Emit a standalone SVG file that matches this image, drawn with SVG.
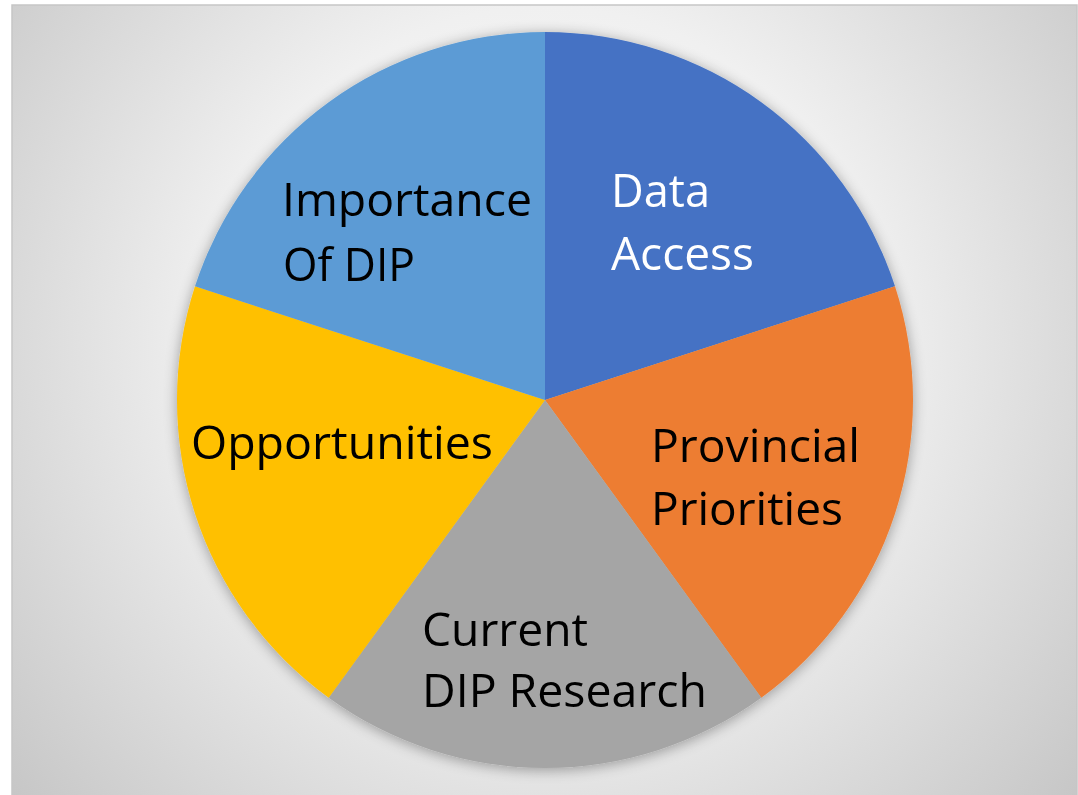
<svg xmlns="http://www.w3.org/2000/svg" width="1078" height="795" viewBox="0 0 1078 795">
  <style>
    .lbl { font-family: "Open Sans", "Liberation Sans", sans-serif; font-size: 46px; }
    .dark { fill: #000000; }
    .light { fill: #ffffff; }
    .slice { stroke: none; }
  </style>
  <defs>
    <radialGradient id="bg" gradientUnits="userSpaceOnUse" cx="545" cy="340" r="740">
      <stop offset="0" stop-color="#ffffff"/>
      <stop offset="0.45" stop-color="#f0f0f0"/>
      <stop offset="1" stop-color="#c2c2c2"/>
    </radialGradient>
    <filter id="shadow" x="-10%" y="-10%" width="120%" height="120%">
      <feGaussianBlur in="SourceAlpha" stdDeviation="7"/>
      <feOffset dx="0" dy="2" result="b"/>
      <feComponentTransfer><feFuncA type="linear" slope="0.35"/></feComponentTransfer>
      <feMerge><feMergeNode/><feMergeNode in="SourceGraphic"/></feMerge>
    </filter>
  </defs>
  <rect x="0" y="0" width="1078" height="795" fill="#ffffff"/>
  <rect x="12" y="5" width="1065" height="792" fill="url(#bg)" stroke="#c6c6c6" stroke-width="1.5"/>

  <g id="connectors"></g>

  <g filter="url(#shadow)">
    <g id="data-access">
      <path class="slice" d="M545,400 L545,32 A368,368 0 0 1 895,286.3 Z" fill="#4472C4"/>
      <text class="lbl light" x="611" y="207" textLength="99" lengthAdjust="spacingAndGlyphs">Data</text>
      <text class="lbl light" x="611" y="270" textLength="143" lengthAdjust="spacingAndGlyphs">Access</text>
    </g>
    <g id="provincial-priorities">
      <path class="slice" d="M545,400 L895,286.3 A368,368 0 0 1 761.3,697.7 Z" fill="#ED7D31"/>
      <text class="lbl dark" x="651" y="462" textLength="209" lengthAdjust="spacingAndGlyphs">Provincial</text>
      <text class="lbl dark" x="651" y="525" textLength="192" lengthAdjust="spacingAndGlyphs">Priorities</text>
    </g>
    <g id="current-dip-research">
      <path class="slice" d="M545,400 L761.3,697.7 A368,368 0 0 1 328.7,697.7 Z" fill="#A5A5A5"/>
      <text class="lbl dark" x="422" y="646" textLength="166" lengthAdjust="spacingAndGlyphs">Current</text>
      <text class="lbl dark" x="422" y="707" textLength="285" lengthAdjust="spacingAndGlyphs">DIP Research</text>
    </g>
    <g id="opportunities">
      <path class="slice" d="M545,400 L328.7,697.7 A368,368 0 0 1 195,286.3 Z" fill="#FFC000"/>
      <text class="lbl dark" x="191" y="459" textLength="302" lengthAdjust="spacingAndGlyphs">Opportunities</text>
    </g>
    <g id="importance-of-dip">
      <path class="slice" d="M545,400 L195,286.3 A368,368 0 0 1 545,32 Z" fill="#5B9BD5"/>
      <text class="lbl dark" x="282" y="216" textLength="250" lengthAdjust="spacingAndGlyphs">Importance</text>
      <text class="lbl dark" x="283" y="281" textLength="132" lengthAdjust="spacingAndGlyphs">Of DIP</text>
    </g>
  </g>
</svg>
